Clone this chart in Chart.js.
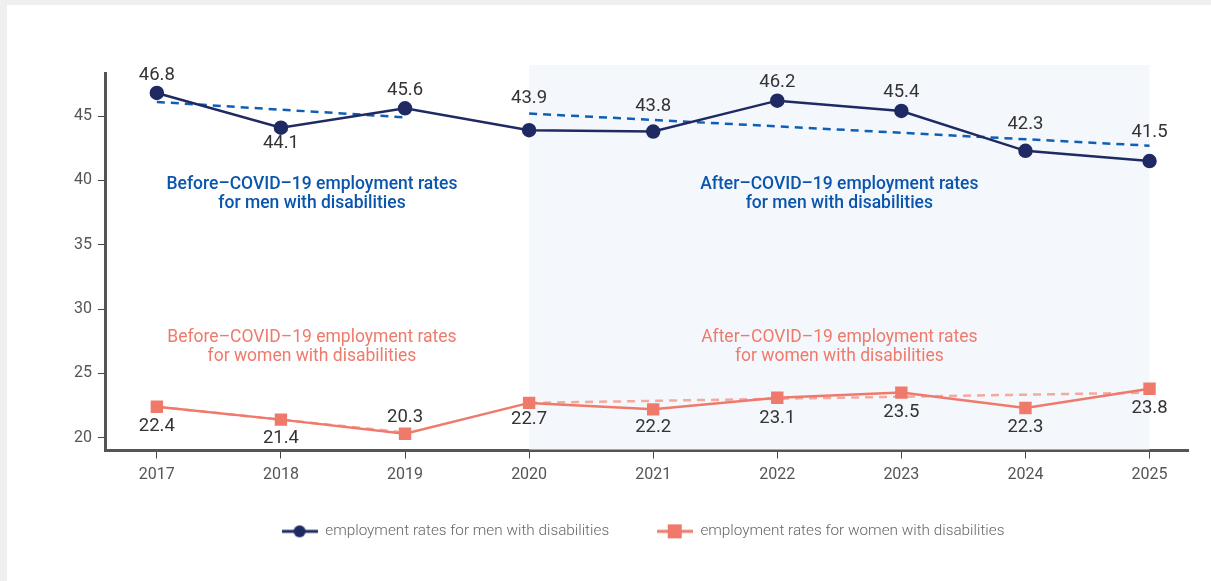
<!DOCTYPE html>
<html>
<head>
<meta charset="utf-8">
<script src="https://cdn.jsdelivr.net/npm/chart.js@4.4.1/dist/chart.umd.min.js"></script>
<style>
  html, body { margin: 0; padding: 0; background: #efefef; }
  #card { position: absolute; left: 7px; top: 5px; right: 0; bottom: 0; background: #fff; }
  #wrap { position: absolute; left: 0; top: 0; width: 1211px; height: 581px; }
</style>
</head>
<body>
<div id="card"></div>
<div id="wrap"><canvas id="chart"></canvas></div>
<script>
const years = [2017, 2018, 2019, 2020, 2021, 2022, 2023, 2024, 2025];
const menRates = [46.8, 44.1, 45.6, 43.9, 43.8, 46.2, 45.4, 42.3, 41.5];
const womenRates = [22.4, 21.4, 20.3, 22.7, 22.2, 23.1, 23.5, 22.3, 23.8];

// dashed trend lines (start/end years and values)
const trendYearsBefore = [2017, 2019];
const trendYearsAfter = [2020, 2025];
const menTrendBefore = [46.1, 44.9];
const menTrendAfter = [45.2, 42.7];
const womenTrendBefore = [22.4, 20.4];
const womenTrendAfter = [22.7, 23.5];

const yTicks = [20, 25, 30, 35, 40, 45];
const seriesNames = ['employment rates for men with disabilities', 'employment rates for women with disabilities'];

const NAVY = '#1f2a63';
const SALMON = '#ef7a6b';
const BLUE = '#0a55ad';

const pts = (xs, ys) => xs.map((x, i) => ({ x: x, y: ys[i] }));

// legend icons: short line with marker
function legendIcon(color, shape) {
    const c = document.createElement('canvas');
    c.width = 36; c.height = 16;
    const g = c.getContext('2d');
    g.strokeStyle = color; g.lineWidth = 3;
    g.beginPath(); g.moveTo(0, 8); g.lineTo(36, 8); g.stroke();
    g.fillStyle = color;
    if (shape === 'circle') {
        g.beginPath(); g.arc(18, 8, 6, 0, Math.PI * 2); g.fill();
    } else {
        g.fillRect(11, 1, 14, 14);
    }
    return c;
}
const menIcon = legendIcon(NAVY, 'circle');
const womenIcon = legendIcon(SALMON, 'rect');

const shadePlugin = {
    id: 'shade',
    afterLayout(chart) {
        // nudge the legend a little right, like the original
        chart.legend.left += 15;
        chart.legend.right += 15;
    },
    beforeDatasetsDraw(chart) {
        const { ctx, chartArea, scales } = chart;
        const x0 = scales.x.getPixelForValue(2020);
        const x1 = scales.x.getPixelForValue(2025);
        ctx.save();
        ctx.fillStyle = '#f4f8fd';
        ctx.fillRect(x0, chartArea.top - 8, x1 - x0, chartArea.bottom - chartArea.top + 7);
        ctx.restore();
    }
};

const notes = [
    { x: 2018.25, y: 38.9, color: BLUE, weight: 500, lines: ['Before\u2013COVID\u201319 employment rates', 'for men with disabilities'] },
    { x: 2022.5, y: 38.9, color: BLUE, weight: 500, lines: ['After\u2013COVID\u201319 employment rates', 'for men with disabilities'] },
    { x: 2018.25, y: 27.05, color: SALMON, weight: 400, lines: ['Before\u2013COVID\u201319 employment rates', 'for women with disabilities'] },
    { x: 2022.5, y: 27.05, color: SALMON, weight: 400, lines: ['After\u2013COVID\u201319 employment rates', 'for women with disabilities'] }
];

// vertical pixel offset of each value label from its point (negative = above)
const labelOffset = [
    [-18, 16, -18, -32, -25, -18, -19, -26, -29],
    [20, 19, -16, 16, 18, 21, 20, 19, 20]
];

const textPlugin = {
    id: 'texts',
    afterDatasetsDraw(chart) {
        const { ctx, scales } = chart;
        ctx.save();
        ctx.textAlign = 'center';
        ctx.textBaseline = 'middle';
        notes.forEach(n => {
            ctx.fillStyle = n.color;
            ctx.font = n.weight + ' 17.5px Roboto';
            const cx = scales.x.getPixelForValue(n.x);
            const cy = scales.y.getPixelForValue(n.y);
            ctx.fillText(n.lines[0], cx, cy - 9.5);
            ctx.fillText(n.lines[1], cx, cy + 9.5);
        });
        ctx.fillStyle = '#333';
        ctx.font = '18.5px Roboto';
        [0, 1].forEach(di => {
            const meta = chart.getDatasetMeta(di);
            const vals = chart.data.datasets[di].data;
            meta.data.forEach((p, i) => {
                ctx.fillText(vals[i].y.toFixed(1), p.x, p.y + labelOffset[di][i]);
            });
        });
        ctx.restore();
    }
};

const trendStyle = (color) => ({
    borderColor: color,
    borderWidth: 2.5,
    borderDash: [8, 6],
    pointRadius: 0,
    fill: false
});

new Chart(document.getElementById('chart'), {
    type: 'line',
    data: {
        datasets: [
            {
                label: seriesNames[0],
                data: pts(years, menRates),
                borderColor: NAVY,
                backgroundColor: NAVY,
                borderWidth: 2.5,
                pointRadius: 6,
                pointStyle: 'circle',
                order: 0
            },
            {
                label: seriesNames[1],
                data: pts(years, womenRates),
                borderColor: SALMON,
                backgroundColor: SALMON,
                borderWidth: 2.5,
                pointRadius: 7,
                pointStyle: 'rect',
                order: 1
            },
            Object.assign({ label: 'trend', data: pts(trendYearsBefore, menTrendBefore), order: 2 }, trendStyle('#0f5fb3')),
            Object.assign({ label: 'trend', data: pts(trendYearsAfter, menTrendAfter), order: 2 }, trendStyle('#0f5fb3')),
            Object.assign({ label: 'trend', data: pts(trendYearsBefore, womenTrendBefore), order: 3 }, trendStyle('#f4a99d')),
            Object.assign({ label: 'trend', data: pts(trendYearsAfter, womenTrendAfter), order: 3 }, trendStyle('#f4a99d'))
        ]
    },
    options: {
        responsive: true,
        maintainAspectRatio: false,
        animation: false,
        layout: { padding: { left: 68, right: 23, top: 73, bottom: 32 } },
        plugins: {
            tooltip: { enabled: false },
            legend: {
                position: 'bottom',
                labels: {
                    usePointStyle: true,
                    pointStyleWidth: 36,
                    color: '#666',
                    font: { family: 'Roboto', size: 15.3, weight: 300 },
                    padding: 32,
                    boxHeight: 16,
                    generateLabels: chart => [
                        // trailing spaces widen the gap between the two items
                        { text: seriesNames[0] + '\u2002\u2002', pointStyle: menIcon, fontColor: '#666', lineWidth: 0, datasetIndex: 0 },
                        { text: seriesNames[1], pointStyle: womenIcon, fontColor: '#666', lineWidth: 0, datasetIndex: 1 }
                    ]
                }
            }
        },
        scales: {
            x: {
                type: 'linear',
                min: 2016.59,
                max: 2025.31,
                afterBuildTicks: s => { s.ticks = years.map(v => ({ value: v })); },
                ticks: {
                    callback: v => String(v),
                    color: '#555',
                    font: { family: 'Roboto', size: 16 },
                    padding: 7
                },
                grid: { drawOnChartArea: false, drawTicks: true, tickLength: 8, color: '#444', tickWidth: 1 },
                border: { display: true, color: '#555', width: 3 }
            },
            y: {
                min: 19,
                max: 48.35,
                afterBuildTicks: s => { s.ticks = yTicks.map(v => ({ value: v })); },
                ticks: {
                    color: '#555',
                    font: { family: 'Roboto', size: 16 },
                    padding: 6
                },
                grid: { drawOnChartArea: false, drawTicks: true, tickLength: 8, color: '#444', tickWidth: 1 },
                border: { display: true, color: '#555', width: 3 }
            }
        }
    },
    plugins: [shadePlugin, textPlugin]
});
</script>
</body>
</html>
